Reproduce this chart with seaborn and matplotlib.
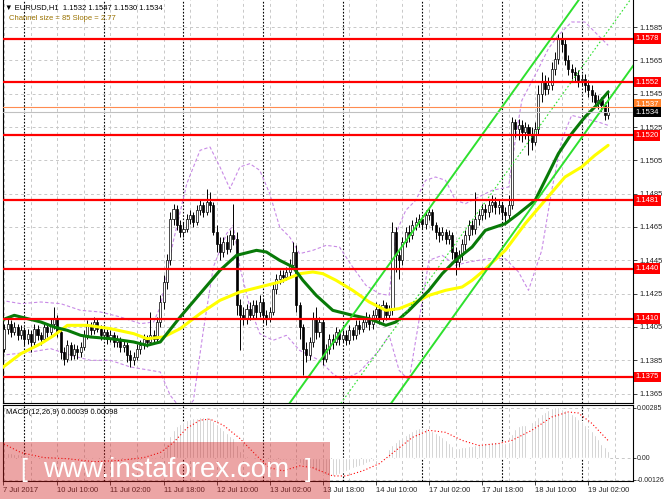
#EURUSD H1 chart with MA, bollinger bands, regression channel and MACD
import matplotlib
matplotlib.use("Agg")
import matplotlib.pyplot as plt
import matplotlib.transforms as mtransforms
from matplotlib.patches import Rectangle
import pandas as pd
import seaborn as sns

#1) data
first_open = 1.1398
closes = [1.1392, 1.1404, 1.1407, 1.1402, 1.1405, 1.1400, 1.1403, 1.1398,
          1.1401, 1.1396, 1.1404, 1.1400, 1.1398, 1.1405, 1.1402, 1.1407,
          1.1410, 1.1402, 1.1390, 1.1386, 1.1394, 1.1388, 1.1392, 1.1390,
          1.1393, 1.1400, 1.1406, 1.1403, 1.1408, 1.1404, 1.1400, 1.1402,
          1.1398, 1.1400, 1.1396, 1.1397, 1.1393, 1.1394, 1.1388, 1.1385,
          1.1387, 1.1392, 1.1394, 1.1398, 1.1396, 1.1400, 1.1398, 1.1408,
          1.1420, 1.1432, 1.1445, 1.1470, 1.1476, 1.1466, 1.1462, 1.1464,
          1.1470, 1.1472, 1.1468, 1.1475, 1.1478, 1.1474, 1.1480, 1.1478,
          1.1462, 1.1455, 1.1450, 1.1456, 1.1452, 1.1460, 1.1458, 1.1418,
          1.1412, 1.1410, 1.1416, 1.1412, 1.1418, 1.1414, 1.1420, 1.1412,
          1.1410, 1.1414, 1.1428, 1.1434, 1.1436, 1.1435, 1.1438, 1.1442,
          1.1450, 1.1418, 1.1405, 1.1392, 1.1388, 1.1396, 1.1410, 1.1402,
          1.1408, 1.1386, 1.1392, 1.1398, 1.1396, 1.1402, 1.1398, 1.1400,
          1.1397, 1.1403, 1.1400, 1.1406, 1.1404, 1.1408, 1.1410, 1.1407,
          1.1412, 1.1416, 1.1410, 1.1418, 1.1412, 1.1415, 1.1462, 1.1448,
          1.1445, 1.1456, 1.1462, 1.1460, 1.1466, 1.1468, 1.1470, 1.1467,
          1.1472, 1.1474, 1.1466, 1.1462, 1.1460, 1.1462, 1.1458, 1.1460,
          1.1450, 1.1444, 1.1448, 1.1455, 1.1460, 1.1466, 1.1464, 1.1470,
          1.1472, 1.1476, 1.1474, 1.1478, 1.1480, 1.1477, 1.1478, 1.1474,
          1.1472, 1.1478, 1.1528, 1.1524, 1.1526, 1.1522, 1.1525, 1.1520,
          1.1516, 1.1524, 1.1545, 1.1552, 1.1548, 1.1550, 1.1560, 1.1566,
          1.1578, 1.1575, 1.1565, 1.1560, 1.1558, 1.1556, 1.1553, 1.1554,
          1.1550, 1.1547, 1.1544, 1.1540, 1.1541, 1.1538, 1.1532, 1.1534]
highs = [1.1402, 1.1407, 1.1410, 1.1409, 1.1408, 1.1407, 1.1406, 1.1405,
         1.1404, 1.1403, 1.1407, 1.1406, 1.1402, 1.1408, 1.1407, 1.1410,
         1.1417, 1.1412, 1.1404, 1.1393, 1.1397, 1.1396, 1.1395, 1.1394,
         1.1396, 1.1403, 1.1409, 1.1408, 1.1411, 1.1410, 1.1406, 1.1405,
         1.1404, 1.1403, 1.1402, 1.1400, 1.1399, 1.1397, 1.1396, 1.1391,
         1.1390, 1.1395, 1.1397, 1.1401, 1.1400, 1.1414, 1.1403, 1.1411,
         1.1424, 1.1436, 1.1449, 1.1474, 1.1479, 1.1478, 1.1469, 1.1468,
         1.1473, 1.1475, 1.1474, 1.1478, 1.1481, 1.1480, 1.1488, 1.1486,
         1.1480, 1.1466, 1.1459, 1.1459, 1.1460, 1.1463, 1.1479, 1.1462,
         1.1422, 1.1417, 1.1419, 1.1420, 1.1421, 1.1421, 1.1424, 1.1422,
         1.1415, 1.1417, 1.1431, 1.1437, 1.1439, 1.1439, 1.1441, 1.1446,
         1.1456, 1.1454, 1.1420, 1.1407, 1.1396, 1.1399, 1.1414, 1.1417,
         1.1411, 1.1410, 1.1395, 1.1401, 1.1401, 1.1405, 1.1404, 1.1403,
         1.1403, 1.1406, 1.1405, 1.1409, 1.1409, 1.1411, 1.1414, 1.1413,
         1.1415, 1.1420, 1.1419, 1.1421, 1.1420, 1.1418, 1.1468, 1.1465,
         1.1452, 1.1459, 1.1465, 1.1466, 1.1469, 1.1471, 1.1473, 1.1472,
         1.1475, 1.1477, 1.1476, 1.1468, 1.1465, 1.1465, 1.1464, 1.1463,
         1.1462, 1.1453, 1.1451, 1.1458, 1.1463, 1.1469, 1.1469, 1.1486,
         1.1476, 1.1479, 1.1479, 1.1481, 1.1484, 1.1483, 1.1481, 1.1480,
         1.1477, 1.1484, 1.1531, 1.1530, 1.1530, 1.1529, 1.1528, 1.1527,
         1.1525, 1.1528, 1.1550, 1.1558, 1.1556, 1.1555, 1.1564, 1.1570,
         1.1581, 1.1582, 1.1578, 1.1568, 1.1563, 1.1561, 1.1559, 1.1557,
         1.1557, 1.1553, 1.1550, 1.1546, 1.1544, 1.1543, 1.1540, 1.1547]
lows = [1.1388, 1.1390, 1.1401, 1.1399, 1.1400, 1.1397, 1.1398, 1.1394,
        1.1395, 1.1390, 1.1394, 1.1397, 1.1394, 1.1396, 1.1399, 1.1400,
        1.1404, 1.1399, 1.1386, 1.1382, 1.1384, 1.1385, 1.1386, 1.1386,
        1.1387, 1.1391, 1.1398, 1.1400, 1.1401, 1.1402, 1.1397, 1.1398,
        1.1395, 1.1396, 1.1393, 1.1393, 1.1390, 1.1390, 1.1384, 1.1381,
        1.1382, 1.1385, 1.1389, 1.1392, 1.1393, 1.1394, 1.1395, 1.1396,
        1.1405, 1.1416, 1.1428, 1.1442, 1.1466, 1.1463, 1.1459, 1.1459,
        1.1462, 1.1467, 1.1465, 1.1466, 1.1472, 1.1471, 1.1472, 1.1474,
        1.1460, 1.1450, 1.1445, 1.1447, 1.1449, 1.1450, 1.1454, 1.1412,
        1.1391, 1.1406, 1.1407, 1.1409, 1.1410, 1.1410, 1.1411, 1.1408,
        1.1406, 1.1408, 1.1412, 1.1425, 1.1431, 1.1432, 1.1433, 1.1435,
        1.1440, 1.1414, 1.1398, 1.1376, 1.1384, 1.1385, 1.1393, 1.1398,
        1.1399, 1.1382, 1.1384, 1.1389, 1.1392, 1.1394, 1.1394, 1.1396,
        1.1394, 1.1395, 1.1397, 1.1398, 1.1401, 1.1402, 1.1405, 1.1403,
        1.1404, 1.1409, 1.1407, 1.1408, 1.1409, 1.1410, 1.1412, 1.1438,
        1.1434, 1.1442, 1.1453, 1.1456, 1.1458, 1.1463, 1.1465, 1.1464,
        1.1464, 1.1469, 1.1463, 1.1458, 1.1456, 1.1457, 1.1455, 1.1455,
        1.1446, 1.1436, 1.1441, 1.1445, 1.1451, 1.1457, 1.1460, 1.1461,
        1.1466, 1.1469, 1.1470, 1.1471, 1.1474, 1.1473, 1.1473, 1.1470,
        1.1466, 1.1470, 1.1476, 1.1519, 1.1517, 1.1516, 1.1518, 1.1508,
        1.1511, 1.1514, 1.1521, 1.1540, 1.1544, 1.1545, 1.1547, 1.1556,
        1.1563, 1.1570, 1.1562, 1.1556, 1.1554, 1.1552, 1.1549, 1.1550,
        1.1546, 1.1543, 1.1540, 1.1537, 1.1536, 1.1534, 1.1529, 1.1530]

#moving averages and bands, read as (bar, price) vertices
ma_green_bar = [0, 4, 8, 12, 16, 20, 24, 27, 33, 40, 44, 48, 54, 60, 66, 71, 77, 80, 84, 88,
                91, 95, 100, 106, 111, 116, 119, 123, 129, 133, 137, 142, 146, 152, 156,
                161, 164, 168, 172, 176, 180, 183]
ma_green_val = [1.1409, 1.1412, 1.1410, 1.1408, 1.1405, 1.1403, 1.1400, 1.1399, 1.1398, 1.1396,
                1.1394, 1.1396, 1.1411, 1.1425, 1.1439, 1.1448, 1.1451, 1.1450, 1.1445, 1.1441,
                1.1433, 1.1424, 1.1415, 1.1412, 1.1410, 1.1406, 1.1408, 1.1415, 1.1427, 1.1437,
                1.1445, 1.1453, 1.1463, 1.1467, 1.1473, 1.1481, 1.1493, 1.1509, 1.1521, 1.1531,
                1.1539, 1.1546]
ma_yellow_bar = [0, 6, 12, 16, 20, 26, 33, 40, 44, 49, 54, 60, 66, 72, 78, 84, 90, 94, 97, 101,
                 106, 111, 116, 120, 125, 129, 134, 139, 142, 145, 152, 158, 164, 170, 175, 179, 183]
ma_yellow_val = [1.1380, 1.1389, 1.1395, 1.1400, 1.1406, 1.1406, 1.1404, 1.1401, 1.1398, 1.1399,
                 1.1404, 1.1413, 1.1421, 1.1426, 1.1429, 1.1432, 1.1437, 1.1438, 1.1437, 1.1433,
                 1.1427, 1.1420, 1.1415, 1.1416, 1.1420, 1.1424, 1.1427, 1.1429, 1.1433, 1.1438,
                 1.1451, 1.1467, 1.1481, 1.1495, 1.1501, 1.1508, 1.1514]
band_up_bar = [0, 6, 12, 18, 24, 30, 36, 42, 46, 48, 52, 56, 60, 63, 66, 69, 72, 75, 78, 81, 84,
               87, 90, 94, 98, 102, 106, 110, 114, 117, 119, 122, 125, 128, 131, 134, 137, 140,
               144, 148, 153, 155, 157, 162, 165, 168, 172, 176, 180, 183]
band_up_val = [1.1421, 1.1419, 1.1420, 1.1419, 1.1415, 1.1414, 1.1411, 1.1407, 1.1408, 1.1417,
               1.1457, 1.1491, 1.1511, 1.1513, 1.1501, 1.1488, 1.1501, 1.1503, 1.1499, 1.1485,
               1.1465, 1.1459, 1.1449, 1.1451, 1.1454, 1.1453, 1.1441, 1.1430, 1.1425, 1.1424,
               1.1461, 1.1475, 1.1481, 1.1493, 1.1495, 1.1493, 1.1481, 1.1479, 1.1483, 1.1487,
               1.1489, 1.1517, 1.1541, 1.1560, 1.1572, 1.1580, 1.1588, 1.1588, 1.1580, 1.1574]
band_low_bar = [0, 9, 15, 21, 27, 33, 39, 45, 48, 51, 55, 58, 61, 64, 68, 70, 72, 75, 78, 82,
                86, 90, 96, 100, 103, 108, 114, 117, 120, 123, 127, 129, 133, 137, 141, 147,
                152, 156, 159, 163, 166, 169, 172, 176, 180, 183]
band_low_val = [1.1388, 1.1390, 1.1392, 1.1388, 1.1385, 1.1385, 1.1381, 1.1379, 1.1378, 1.1364,
                1.1354, 1.1361, 1.1403, 1.1441, 1.1461, 1.1466, 1.1441, 1.1417, 1.1401, 1.1397,
                1.1400, 1.1391, 1.1385, 1.1377, 1.1373, 1.1378, 1.1391, 1.1400, 1.1379, 1.1373,
                1.1421, 1.1445, 1.1448, 1.1442, 1.1444, 1.1446, 1.1446, 1.1438, 1.1427, 1.1451,
                1.1487, 1.1517, 1.1532, 1.1530, 1.1528, 1.1526]

#regression channel (slope 2.77 pips per bar, size 85 pips)
chan_bar = [84, 191]
chan_low = [1.1266, 1.1563]
chan_mid = [1.1308, 1.1605]
chan_up = [1.1351, 1.1648]

#support / resistance levels
levels = [1.1578, 1.1552, 1.1520, 1.1481, 1.1440, 1.1410, 1.1375]
price_ticks = [1.1585, 1.1565, 1.1545, 1.1525, 1.1505, 1.1485, 1.1465,
               1.1445, 1.1425, 1.1405, 1.1385, 1.1365]

#MACD(12,26,9) histogram per bar and signal line vertices
macd_hist = [0.00030, 0.00028, 0.00026, 0.00024, 0.00022, 0.00020, 0.00018, 0.00016,
             0.00014, 0.00012, 0.00010, 0.00009, 0.00008, 0.00008, 0.00007, 0.00008,
             0.00010, 0.00006, 0.00001, -0.00004, -0.00005, -0.00008, -0.00009, -0.00010,
             -0.00009, -0.00007, -0.00004, -0.00002, 0.00001, 0.00001, 0.00000, -0.00001,
             -0.00002, -0.00002, -0.00004, -0.00005, -0.00007, -0.00008, -0.00011, -0.00014,
             -0.00015, -0.00014, -0.00012, -0.00009, -0.00008, -0.00005, -0.00004, 0.00004,
             0.00015, 0.00040, 0.00080, 0.00125, 0.00160, 0.00180, 0.00195, 0.00205,
             0.00215, 0.00222, 0.00226, 0.00230, 0.00232, 0.00234, 0.00232, 0.00225,
             0.00210, 0.00195, 0.00175, 0.00160, 0.00140, 0.00125, 0.00110, 0.00070,
             0.00040, 0.00025, 0.00012, 0.00005, 0.00000, -0.00004, -0.00006, -0.00010,
             -0.00014, -0.00016, -0.00016, -0.00015, -0.00013, -0.00012, -0.00011, -0.00012,
             -0.00014, -0.00022, -0.00032, -0.00045, -0.00055, -0.00062, -0.00068, -0.00075,
             -0.00085, -0.00093, -0.00100, -0.00105, -0.00105, -0.00102, -0.00095, -0.00085,
             -0.00077, -0.00070, -0.00062, -0.00055, -0.00048, -0.00040, -0.00033, -0.00026,
             -0.00020, -0.00014, -0.00010, -0.00007, -0.00004, 0.00050, 0.00075, 0.00090,
             0.00105, 0.00118, 0.00130, 0.00142, 0.00155, 0.00165, 0.00170, 0.00172,
             0.00168, 0.00160, 0.00150, 0.00140, 0.00130, 0.00118, 0.00100, 0.00085,
             0.00068, 0.00058, 0.00058, 0.00060, 0.00062, 0.00064, 0.00068, 0.00072,
             0.00076, 0.00080, 0.00083, 0.00085, 0.00087, 0.00088, 0.00087, 0.00086,
             0.00085, 0.00090, 0.00135, 0.00165, 0.00180, 0.00186, 0.00190, 0.00196,
             0.00205, 0.00215, 0.00235, 0.00250, 0.00262, 0.00275, 0.00285, 0.00291,
             0.00288, 0.00280, 0.00273, 0.00262, 0.00250, 0.00238, 0.00224, 0.00210,
             0.00190, 0.00172, 0.00150, 0.00128, 0.00108, 0.00080, 0.00060, 0.00039]
signal_bar = [0, 6, 13, 20, 28, 35, 43, 48, 52, 56, 60, 63, 67, 72, 77, 81, 85, 90, 94, 100,
              104, 109, 114, 119, 124, 129, 134, 139, 144, 150, 154, 160, 166, 171, 174, 178, 183]
signal_val = [0.00087, 0.00029, 0.00000, -0.00006, -0.00023, -0.00017, 0.00000, 0.00029,
              0.00087, 0.00169, 0.00215, 0.00221, 0.00186, 0.00110, 0.00012, -0.00058,
              -0.00076, -0.00047, -0.00058, -0.00105, -0.00105, -0.00076, -0.00035, 0.00041,
              0.00116, 0.00157, 0.00145, 0.00099, 0.00070, 0.00081, 0.00099, 0.00157,
              0.00233, 0.00262, 0.00256, 0.00198, 0.00098]
macd_ticks = [0.00285, 0.0, -0.00126]
macd_tick_labels = ["0.00285", "0.00", "-0.00126"]

#time axis
tick_bars = [0, 17, 33, 49, 65, 81, 97, 113, 129, 145, 161, 177]
tick_labels = ["7 Jul 2017", "10 Jul 10:00", "11 Jul 02:00", "11 Jul 18:00", "12 Jul 10:00",
               "13 Jul 02:00", "13 Jul 18:00", "14 Jul 10:00", "17 Jul 02:00", "17 Jul 18:00",
               "18 Jul 10:00", "19 Jul 02:00"]
day_bars = [7, 31, 55, 79, 103, 127, 151, 175]
grid_bars = list(range(1, 190, 8))

#2) building the candle table
df = pd.DataFrame({"close": closes, "high": highs, "low": lows})
df["open"] = [first_open] + closes[:-1]
df["bar"] = range(len(df))
df["bull"] = df["close"] >= df["open"]

sns.set_style("white")
plt.rcParams["font.family"] = ["Liberation Sans", "DejaVu Sans"]

fig = plt.figure(figsize=(6.65, 4.99), dpi=100)
fig.patch.set_facecolor("white")
ax = fig.add_axes([3 / 665, 96 / 499, 630 / 665, 403 / 499])
ax2 = fig.add_axes([3 / 665, 18 / 499, 630 / 665, 76 / 499], sharex=ax)

xlim = (0.6, 190.5)
ax.set_xlim(*xlim)
ax.set_ylim(1.13594, 1.16012)
ax2.set_ylim(-0.00134, 0.00302)

grid_kw = dict(color="#c8c8c8", linestyle=(0, (3, 3)), linewidth=0.7, zorder=0.5)
sep_kw = dict(color="black", linestyle=(0, (1.5, 1.5)), linewidth=0.8, zorder=0.6)

#a) main panel grid and day separators
for p in price_ticks:
    ax.axhline(p, **grid_kw)
for b in grid_bars:
    ax.axvline(b, **grid_kw)
    ax2.axvline(b, **grid_kw)
for b in day_bars:
    ax.axvline(b, **sep_kw)
    ax2.axvline(b, **sep_kw)
for v in macd_ticks:
    ax2.axhline(v, **grid_kw)

#b) candles
body_bottom = df[["open", "close"]].min(axis=1)
body_height = (df["close"] - df["open"]).abs().clip(lower=0.00004)
ax.vlines(df["bar"], df["low"], df["high"], color="black", linewidth=0.7, zorder=3)
bull = df["bull"]
ax.bar(df["bar"][bull], body_height[bull], bottom=body_bottom[bull], width=0.62,
       color="white", edgecolor="black", linewidth=0.5, zorder=3.2)
ax.bar(df["bar"][~bull], body_height[~bull], bottom=body_bottom[~bull], width=0.62,
       color="black", edgecolor="black", linewidth=0.5, zorder=3.2)

#c) indicator lines
band_kw = dict(color="#c88ae6", linewidth=0.8, linestyle=(0, (3, 2)), zorder=2.5)
sns.lineplot(x=band_up_bar, y=band_up_val, ax=ax, sort=False, estimator=None, **band_kw)
sns.lineplot(x=band_low_bar, y=band_low_val, ax=ax, sort=False, estimator=None, **band_kw)
sns.lineplot(x=ma_yellow_bar, y=ma_yellow_val, ax=ax, sort=False, estimator=None,
             color="#ffff00", linewidth=2.2, zorder=4)
sns.lineplot(x=ma_green_bar, y=ma_green_val, ax=ax, sort=False, estimator=None,
             color="#087a08", linewidth=2.2, zorder=4.1)
sns.lineplot(x=chan_bar, y=chan_low, ax=ax, color="#2ee02e", linewidth=1.4, zorder=4.2)
sns.lineplot(x=chan_bar, y=chan_up, ax=ax, color="#2ee02e", linewidth=1.4, zorder=4.2)
sns.lineplot(x=chan_bar, y=chan_mid, ax=ax, color="#2ee02e", linewidth=0.8,
             linestyle=(0, (1.5, 2)), zorder=4.2)

#d) horizontal levels and price labels
trans = mtransforms.blended_transform_factory(ax.transAxes, ax.transData)
ax.axhline(1.1537, color="#ff8c50", linewidth=0.8, zorder=4.5)
ax.axhline(1.1534, color="#c0c0c0", linewidth=0.8, zorder=4.4)
for lvl in levels:
    ax.axhline(lvl, color="#ff0000", linewidth=1.6, zorder=5)
    ax.text(1.004, lvl, f"{lvl:.4f}", transform=trans, ha="left", va="center",
            fontsize=5.5, color="white", clip_on=False, zorder=6,
            bbox=dict(boxstyle="square,pad=0.22", fc="#ff0000", ec="none"))
ax.text(1.004, 1.15385, "1.1537", transform=trans, ha="left", va="center", fontsize=5.5,
        color="white", clip_on=False, zorder=6,
        bbox=dict(boxstyle="square,pad=0.22", fc="#ff7f27", ec="none"))
ax.text(1.004, 1.1534, "1.1534", transform=trans, ha="left", va="center", fontsize=5.5,
        color="white", clip_on=False, zorder=6.5,
        bbox=dict(boxstyle="square,pad=0.22", fc="black", ec="none"))

#e) axes styling
ax.yaxis.tick_right()
ax.set_yticks(price_ticks)
ax.set_yticklabels([f"{p:.4f}" for p in price_ticks])
ax.tick_params(axis="y", length=3, width=0.6, pad=2, labelsize=5.5, direction="out", right=True)
ax.tick_params(axis="x", length=0, labelbottom=False)
ax.set_xlabel("")
ax.set_ylabel("")
for side in ["left", "right", "bottom"]:
    ax.spines[side].set_color("black")
    ax.spines[side].set_linewidth(0.8)
ax.spines["top"].set_visible(False)

#f) MACD panel
ax2.bar(df["bar"], macd_hist, width=0.6, color="#bdbdbd", zorder=2)
sns.lineplot(x=signal_bar, y=signal_val, ax=ax2, sort=False, estimator=None,
             color="#ff0000", linewidth=0.8, linestyle=(0, (1, 2)), zorder=3)
ax2.yaxis.tick_right()
ax2.set_yticks(macd_ticks)
ax2.set_yticklabels(macd_tick_labels)
#first label sits on the first visible bar
ax2.set_xticks([max(b, xlim[0]) for b in tick_bars])
ax2.set_xticklabels(tick_labels)
for lbl in ax2.get_xticklabels():
    lbl.set_ha("left")
ax2.tick_params(axis="y", length=2, width=0.6, pad=1, labelsize=5, direction="out", right=True)
ax2.tick_params(axis="x", length=3, width=0.6, pad=1.5, labelsize=5.5, direction="out", bottom=True)
ax2.set_xlabel("")
ax2.set_ylabel("")
for side in ["left", "right", "bottom", "top"]:
    ax2.spines[side].set_color("black")
    ax2.spines[side].set_linewidth(0.8)
ax2.set_xlim(*xlim)

#g) header texts
fig.text(5 / 665, 1 - 8 / 499, "\u25bc EURUSD,H1  1.1532 1.1547 1.1530 1.1534",
         fontsize=5.5, color="black", va="center", ha="left")
fig.text(9 / 665, 1 - 19 / 499, "Channel size = 85 Slope = 2.77",
         fontsize=5.5, color="#9a7200", va="center", ha="left")
fig.text(6 / 665, 1 - 413 / 499, "MACD(12,26,9) 0.00039 0.00098",
         fontsize=5.5, color="black", va="center", ha="left")

#h) watermark
fig.add_artist(Rectangle((0, 0), 330 / 665, 57 / 499, transform=fig.transFigure,
                         facecolor=(0.82, 0.12, 0.12, 0.4), edgecolor="none", zorder=10))
fig.text(166 / 665, 1 - 470 / 499, "www.instaforex.com", fontsize=20, color="white",
         ha="center", va="center", zorder=11, family=["Liberation Sans", "DejaVu Sans"])
fig.text(24 / 665, 1 - 470 / 499, "[", fontsize=18, color="white", ha="center",
         va="center", zorder=11)
fig.text(308 / 665, 1 - 470 / 499, "]", fontsize=18, color="white", ha="center",
         va="center", zorder=11)

fig.savefig("out.png", dpi=100, facecolor="white")
